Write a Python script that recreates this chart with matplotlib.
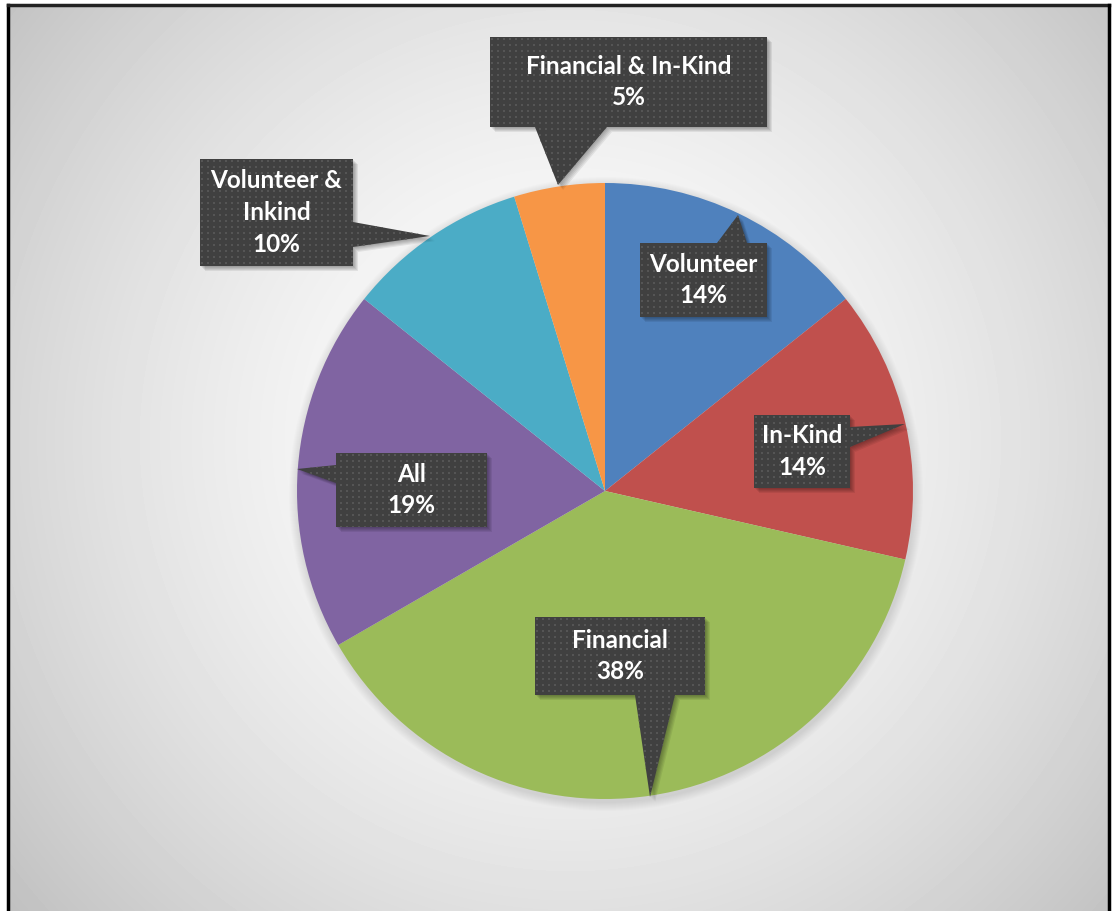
import numpy as np
import matplotlib.pyplot as plt
from matplotlib.patches import Polygon, Circle
from matplotlib.lines import Line2D

W, H = 1113, 911

labels = ['Volunteer', 'In-Kind', 'Financial', 'All', 'Volunteer &\nInkind', 'Financial & In-Kind']
values = [3, 3, 8, 4, 2, 1]
colors = ['#4F81BD', '#C0504D', '#9BBB59', '#8064A2', '#4BACC6', '#F79646']

# callout layout, pixels from top-left: box (x0, y0, x1, y1), edge of pointer, pointer pts
boxes = [
    (640, 243, 767, 317),
    (754, 415, 850, 488),
    (535, 617, 705, 695),
    (336, 453, 487, 527),
    (200, 159, 353, 266),
    (490, 37, 767, 127),
]
sides = ['top', 'right', 'bottom', 'left', 'right', 'bottom']
pointers = [
    [(717, 243), (738, 215), (747, 243)],
    [(850, 427), (905, 424), (850, 447)],
    [(675, 695), (650, 797), (635, 695)],
    [(336, 483), (297, 469), (336, 465)],
    [(353, 222), (430, 236), (353, 247)],
    [(607, 127), (558, 185), (535, 127)],
]

cx, cy, R = 605, 491, 308

fig = plt.figure(figsize=(W / 100, H / 100), dpi=100)
fig.patch.set_facecolor('white')
ax = fig.add_axes([0, 0, 1, 1])

# radial grey background inside the frame
bx0, bx1, by0 = 8, 1109, 5
gx, gy = np.meshgrid(np.arange(bx0, bx1), np.arange(by0, H))
d = np.hypot(gx - 570, gy - 440) / 720.0
shade = 1.0 - 0.24 * np.clip(d, 0, 1.2) ** 1.6
ax.imshow(shade, cmap='gray', vmin=0, vmax=1, extent=(bx0, bx1, 0, H - by0),
          origin='upper', zorder=0, interpolation='bilinear')

# soft shadow behind the pie
for k in range(1, 10):
    ax.add_patch(Circle((cx + 1, H - cy - 3), R + k, color='black', alpha=0.01,
                        lw=0, zorder=1))

ax.pie(values, colors=colors, startangle=90, counterclock=False,
       center=(cx, H - cy), radius=R, wedgeprops=dict(linewidth=0, zorder=2))
for w in ax.patches[-len(values):]:
    w.set_zorder(2)


def callout_verts(box, side, ptr):
    x0, y0, x1, y1 = box
    v = [(x0, y0)]
    if side == 'top':
        v += ptr
    v.append((x1, y0))
    if side == 'right':
        v += ptr
    v.append((x1, y1))
    if side == 'bottom':
        v += ptr
    v.append((x0, y1))
    if side == 'left':
        v += ptr
    return [(x, H - y) for x, y in v]


total = sum(values)
for lab, val, box, side, ptr in zip(labels, values, boxes, sides, pointers):
    verts = callout_verts(box, side, ptr)
    # drop shadow
    for k in range(1, 6):
        sh = [(x + 1.0 * k, y - 1.0 * k) for x, y in verts]
        ax.add_patch(Polygon(sh, closed=True, color='black', alpha=0.07, lw=0, zorder=3))
    poly = Polygon(verts, closed=True, facecolor='#404040', edgecolor='none', zorder=4)
    ax.add_patch(poly)
    # dotted texture
    x0, y0, x1, y1 = box
    xs = np.arange(min(x0, min(p[0] for p in ptr)) + 2, max(x1, max(p[0] for p in ptr)) + 6, 6.0)
    ys = np.arange(min(y0, min(p[1] for p in ptr)) + 2, max(y1, max(p[1] for p in ptr)) + 6, 6.0)
    mx, my = np.meshgrid(xs, ys)
    dots = ax.scatter(mx.ravel(), H - my.ravel(), s=1.5, marker='s', color='#555555',
                      linewidths=0, zorder=5)
    dots.set_clip_path(poly)
    ax.text((x0 + x1) / 2, H - (y0 + y1) / 2, f"{lab}\n{round(100 * val / total)}%",
            ha='center', va='center', color='white', fontsize=17.5, fontweight='bold',
            family=['Lato', 'DejaVu Sans'], linespacing=1.45, zorder=6)

# frame lines (left, top, right)
ax.add_line(Line2D([bx0, bx0], [0, H - by0], color='black', lw=2.5, zorder=7))
ax.add_line(Line2D([bx0, bx1], [H - by0, H - by0], color='#222222', lw=2.5, zorder=7))
ax.add_line(Line2D([bx1, bx1], [0, H - by0], color='black', lw=2.5, zorder=7))

ax.set_xlim(0, W)
ax.set_ylim(0, H)
ax.set_aspect('auto')
ax.axis('off')

fig.savefig('out.png', dpi=100)
